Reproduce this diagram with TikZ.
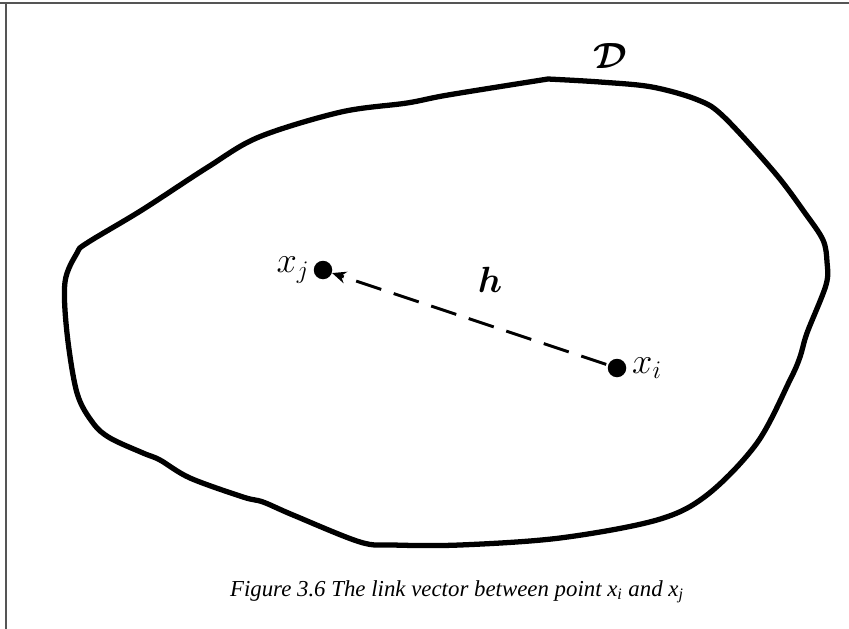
\documentclass[tikz,border=0pt]{standalone}
\usepackage{fontspec}
\setmainfont{Liberation Serif}
\usepackage{amsmath}
\usetikzlibrary{arrows.meta, positioning}
\definecolor{grisMarco}{HTML}{555555}
\tikzset{
  contorno/.style={line width=3pt, line join=round, line cap=round},
  puntoNegro/.style={circle, fill=black, minimum size=0.37cm, inner sep=0pt},
  flechaDiscontinua/.style={-{Stealth[length=2.8mm, width=2.4mm]}, line width=1.7pt,
    dash pattern=on 15pt off 7.5pt, shorten <=1pt},
  etiquetaMat/.style={font=\fontsize{22}{26}\selectfont, inner sep=1pt},
  pieFigura/.style={font=\fontsize{13}{15}\selectfont\itshape},
  marco/.style={draw=grisMarco, line width=1.2pt},
}

\begin{document}
\begin{tikzpicture}[x=0.02cm, y=-0.02cm]
    \useasboundingbox (0,0) rectangle (849,629);
    % marco
    \draw[marco] (0,3) -- (849,3);
    \draw[marco] (6,3) -- (6,629);

    % dominio
    \draw[contorno] plot[smooth, tension=0.55] coordinates {
      (548,79) (600,82) (652,87) (698,100) (724,117) (775,173) (805,213)
      (823,240) (827,262) (826,285) (807,333) (800,357) (790,380) (757,443)
      (707,495) (657,520) (560,538) (460,545) (393,545) (360,542) (293,515)
      (263,502) (243,497) (190,478) (160,460) (143,453) (110,438) (93,423)
      (77,393) (67,333) (65,282) (77,253) (87,243) (142,210) (208,167)
      (259,137) (341,112) (407,103) (448,95) (548,79)};
    \node[etiquetaMat] (dom) at (610,56) {$\boldsymbol{\mathcal{D}}$};

    % puntos
    \node[puntoNegro] (xj) at (323,270) {};
    \node[puntoNegro] (xi) at (617,368) {};
    \node[etiquetaMat, left=1pt of xj] (etxj) {$x_j$};
    \node[etiquetaMat, right=2pt of xi] (etxi) {$x_i$};

    \draw[flechaDiscontinua] (xi) -- (xj);
    \node[etiquetaMat] (vech) at (490,280) {$\boldsymbol{h}$};

    \node[pieFigura] (pie) at (457,592) {Figure 3.6 The link vector between point x\textsubscript{i} and x\textsubscript{j}};
  \end{tikzpicture}
\end{document}
